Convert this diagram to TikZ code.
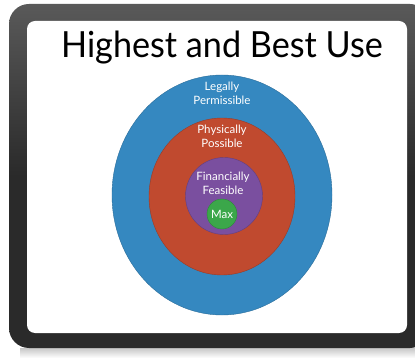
\documentclass[tikz,border=0pt]{standalone}
\usepackage{fontspec}
\setmainfont{Lato}
\begin{document}
\begin{tikzpicture}[x=1pt,y=-1pt,
  ring/.style={draw=#1!80!black, line width=0.4pt, fill=#1},
  lbl/.style={text=white, font=\fontsize{11.5}{14}\selectfont, align=center, inner sep=0pt}]
\definecolor{legalblue}{HTML}{3588C0}
\definecolor{physred}{HTML}{C04A2F}
\definecolor{finpurple}{HTML}{7A4F9F}
\definecolor{maxgreen}{HTML}{3BA74A}
\definecolor{framedark}{HTML}{2A2A2A}
\useasboundingbox (0,0) rectangle (415,358);
\fill[white] (0,0) rectangle (415,358);
% shadow under the frame
\shade[top color=black!22, bottom color=white] (20,348) rectangle (415,358);
% dark frame with a soft top highlight
\shade[rounded corners=20pt, top color=black!65, bottom color=framedark, middle color=framedark]
  (9,4) rectangle (430,348);
\fill[white, rounded corners=8pt] (27,21) rectangle (407,333);
% title
\node[font=\fontsize{36}{40}\selectfont, inner sep=0pt, anchor=base, xscale=0.95] (title) at (222,58) {Highest and Best Use};
% nested rings
\fill[ring=legalblue] (222,195) ellipse [x radius=110, y radius=120];
\fill[ring=physred] (222,196.5) ellipse [x radius=73, y radius=78.5];
\fill[ring=finpurple] (224,196) circle [radius=38.5];
\fill[ring=maxgreen] (222,214) circle [radius=15];
% ring labels (base sits on the second line)
\node[lbl, anchor=base] (legal) at (222,105) {Legally\\Permissible};
\node[lbl, anchor=base] (phys) at (222,148) {Physically\\Possible};
\node[lbl, anchor=base] (fin) at (223,195) {Financially\\Feasible};
\node[lbl, anchor=base] (max) at (222,219) {Max};
\end{tikzpicture}
\end{document}
